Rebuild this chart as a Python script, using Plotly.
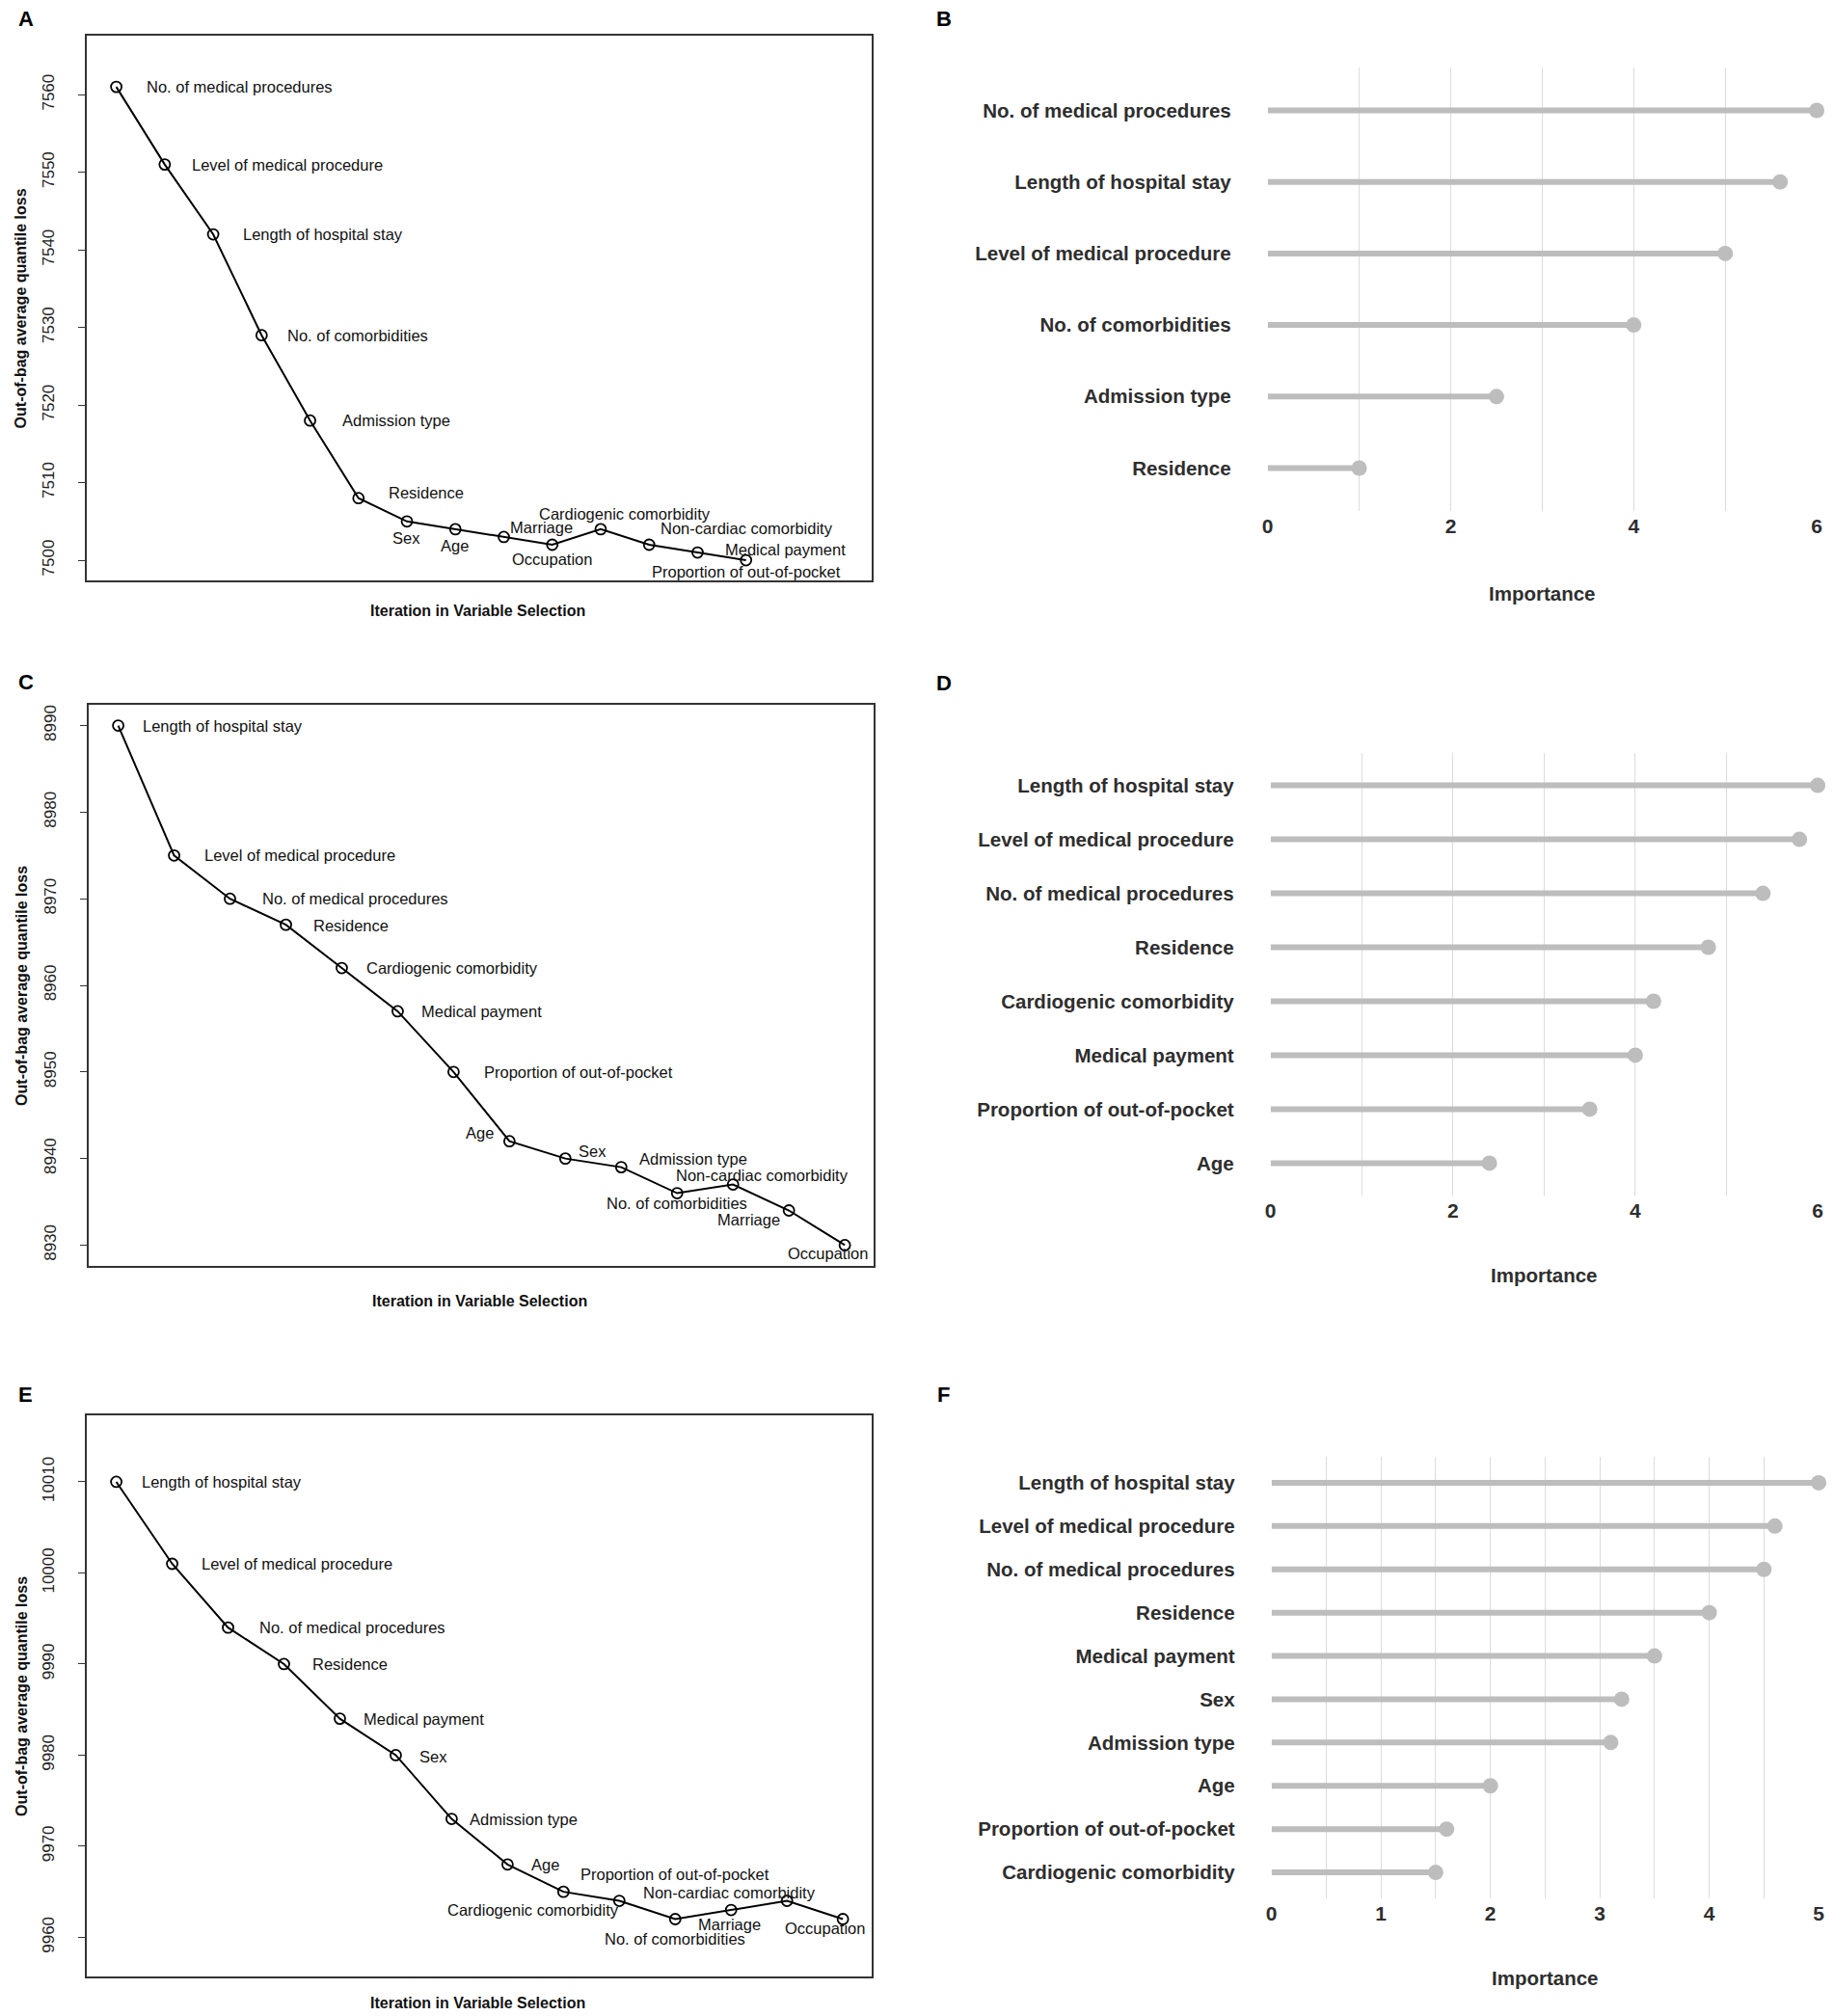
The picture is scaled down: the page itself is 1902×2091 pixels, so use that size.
import plotly.graph_objects as go

W, H = 1902, 2091

# ---------------- DATA ----------------
# Panel A: iteration path
a_labels = ["No. of medical procedures", "Level of medical procedure", "Length of hospital stay",
            "No. of comorbidities", "Admission type", "Residence", "Sex", "Age", "Marriage",
            "Occupation", "Cardiogenic comorbidity", "Non-cardiac comorbidity", "Medical payment",
            "Proportion of out-of-pocket"]
a_loss = [7561, 7551, 7542, 7529, 7518, 7508, 7505, 7504, 7503, 7502, 7504, 7502, 7501, 7500]
a_yticks = [7500, 7510, 7520, 7530, 7540, 7550, 7560]

# Panel B: importance
b_vars = ["No. of medical procedures", "Length of hospital stay", "Level of medical procedure",
          "No. of comorbidities", "Admission type", "Residence"]
b_imp = [6.0, 5.6, 5.0, 4.0, 2.5, 1.0]
b_xticks = [0, 2, 4, 6]

# Panel C
c_labels = ["Length of hospital stay", "Level of medical procedure", "No. of medical procedures",
            "Residence", "Cardiogenic comorbidity", "Medical payment", "Proportion of out-of-pocket",
            "Age", "Sex", "Admission type", "No. of comorbidities", "Non-cardiac comorbidity",
            "Marriage", "Occupation"]
c_loss = [8990, 8975, 8970, 8967, 8962, 8957, 8950, 8942, 8940, 8939, 8936, 8937, 8934, 8930]
c_yticks = [8930, 8940, 8950, 8960, 8970, 8980, 8990]

# Panel D
d_vars = ["Length of hospital stay", "Level of medical procedure", "No. of medical procedures",
          "Residence", "Cardiogenic comorbidity", "Medical payment", "Proportion of out-of-pocket", "Age"]
d_imp = [6.0, 5.8, 5.4, 4.8, 4.2, 4.0, 3.5, 2.4]
d_xticks = [0, 2, 4, 6]

# Panel E
e_labels = ["Length of hospital stay", "Level of medical procedure", "No. of medical procedures",
            "Residence", "Medical payment", "Sex", "Admission type", "Age", "Cardiogenic comorbidity",
            "Proportion of out-of-pocket", "No. of comorbidities", "Marriage", "Non-cardiac comorbidity",
            "Occupation"]
e_loss = [10010, 10001, 9994, 9990, 9984, 9980, 9973, 9968, 9965, 9964, 9962, 9963, 9964, 9962]
e_yticks = [9960, 9970, 9980, 9990, 10000, 10010]

# Panel F
f_vars = ["Length of hospital stay", "Level of medical procedure", "No. of medical procedures",
          "Residence", "Medical payment", "Sex", "Admission type", "Age",
          "Proportion of out-of-pocket", "Cardiogenic comorbidity"]
f_imp = [5.0, 4.6, 4.5, 4.0, 3.5, 3.2, 3.1, 2.0, 1.6, 1.5]
f_xticks = [0, 1, 2, 3, 4, 5]

# ---------------- STYLE: label placement (anchor, xshift px, yshift px) ----------------
a_pos = [("left", 29, 0), ("left", 26, 0), ("left", 29, 0), ("left", 25, 0), ("left", 31, 0),
         ("left", 29, 6), ("center", -1, -17), ("center", -1, -17), ("left", 5, 10),
         ("center", 0, -15), ("center", 25, 16), ("left", 10, 17), ("left", 27, 3),
         ("center", 0, -12)]
c_pos = [("left", 23, 0), ("left", 29, 0), ("left", 31, 0), ("left", 27, -1), ("left", 24, 0),
         ("left", 23, 0), ("left", 30, 0), ("center", -31, 9), ("left", 12, 8), ("left", 17, 9),
         ("center", 0, -10), ("center", 30, 10), ("center", -42, -9), ("center", -18, -9)]
e_pos = [("left", 24, 0), ("left", 28, 0), ("left", 30, 0), ("left", 27, 0), ("left", 23, 0),
         ("left", 23, -2), ("left", 17, 0), ("left", 23, 0), ("center", -31, -19),
         ("center", 58, 28), ("center", 0, -21), ("center", -2, -15), ("center", -60, 9),
         ("center", -19, -10)]

FONT = "Liberation Sans, Arial, Helvetica, sans-serif"
GREY = "#bdbdbd"
GRID = "#dcdcdc"
TXT = "#2e2e2e"


def px_x(p):
    return p / W


def px_y(p):
    return 1 - p / H


fig = go.Figure()
layout = dict(
    width=W, height=H, margin=dict(l=0, r=0, t=0, b=0),
    paper_bgcolor="white", plot_bgcolor="white", showlegend=False,
    font=dict(family=FONT, color="black"),
)
annotations = []

line_panels = [
    # name, labels, loss, yticks, pos, box(x0,x1,y0,y1), xrange, yrange, letter_y, xtitle_y
    ("A", a_labels, a_loss, a_yticks, a_pos, (85, 904, 37, 602), [0.4, 16.6], [7497.4, 7567.6], 20, 633),
    ("C", c_labels, c_loss, c_yticks, c_pos, (87, 906, 731, 1313), [0.48, 14.52], [8927.6, 8992.4], 707, 1349),
    ("E", e_labels, e_loss, e_yticks, e_pos, (85, 904, 1468, 2050), [0.48, 14.52], [9955.7, 10017.3], 1446, 2077),
]
bar_panels = [
    ("B", b_vars, b_imp, b_xticks, 1, (1317, 1890, 70, 530), 615, 20),
    ("D", d_vars, d_imp, d_xticks, 1, (1320, 1891, 781, 1240), 1322, 708),
    ("F", f_vars, f_imp, f_xticks, 0.5, (1321, 1892, 1511, 1969), 2051, 1446),
]

axis_i = 0
for name, labels, loss, yticks, pos, box, xr, yr, let_y, xt_y in line_panels:
    axis_i += 1
    xa = "x" if axis_i == 1 else f"x{axis_i}"
    ya = "y" if axis_i == 1 else f"y{axis_i}"
    xkey = "xaxis" if axis_i == 1 else f"xaxis{axis_i}"
    ykey = "yaxis" if axis_i == 1 else f"yaxis{axis_i}"
    x0, x1, y0, y1 = box
    iters = list(range(1, len(loss) + 1))
    fig.add_trace(go.Scatter(
        x=iters, y=loss, mode="lines+markers", xaxis=xa, yaxis=ya,
        line=dict(color="black", width=2),
        marker=dict(symbol="circle-open", size=11, color="black", line=dict(width=1.8)),
        cliponaxis=False, hoverinfo="skip"))
    layout[xkey] = dict(domain=[px_x(x0), px_x(x1)], range=xr, anchor=ya,
                        showline=True, mirror=True, linecolor="#333333", linewidth=1.5,
                        showgrid=False, zeroline=False, showticklabels=False, ticks="")
    layout[ykey] = dict(domain=[px_y(y1), px_y(y0)], range=yr, anchor=xa,
                        showline=True, mirror=True, linecolor="#333333", linewidth=1.5,
                        showgrid=False, zeroline=False, tickvals=yticks,
                        ticktext=[str(t) for t in yticks],
                        ticks="outside", ticklen=8, tickwidth=1.2, tickcolor="#333333",
                        ticklabelstandoff=18,
                        tickangle=-90, tickfont=dict(size=17, family=FONT, color="#222222"))
    for lab, xv, yv, (anc, xs, ys) in zip(labels, iters, loss, pos):
        annotations.append(dict(x=xv, y=yv, xref=xa, yref=ya, text=lab, showarrow=False,
                                xanchor=anc, yanchor="middle", xshift=xs, yshift=ys,
                                font=dict(size=16.5, family=FONT, color="#111111")))
    annotations.append(dict(x=px_x(21), y=px_y(let_y), xref="paper", yref="paper",
                            text=f"<b>{name}</b>", showarrow=False, xanchor="center",
                            yanchor="middle", font=dict(size=22, family=FONT, color="black")))
    annotations.append(dict(x=px_x((x0 + x1) / 2 - 2), y=px_y(xt_y), xref="paper", yref="paper",
                            text="<b>Iteration in Variable Selection</b>", showarrow=False,
                            xanchor="center", yanchor="middle",
                            font=dict(size=16, family=FONT, color="#111111")))
    annotations.append(dict(x=px_x(16), y=px_y((y0 + y1) / 2), xref="paper", yref="paper",
                            text="<b>Out-of-bag average quantile loss</b>", showarrow=False,
                            textangle=-90, xanchor="center", yanchor="middle",
                            font=dict(size=16, family=FONT, color="#111111")))

for name, vars_, imp, xticks, minor_dt, box, title_y, let_y in bar_panels:
    axis_i += 1
    xa = f"x{axis_i}"
    ya = f"y{axis_i}"
    xkey = f"xaxis{axis_i}"
    ykey = f"yaxis{axis_i}"
    x0, x1, y0, y1 = box
    seg_x, seg_y = [], []
    for v, c in zip(imp, vars_):
        seg_x += [0, v, None]
        seg_y += [c, c, None]
    fig.add_trace(go.Scatter(x=seg_x, y=seg_y, mode="lines", xaxis=xa, yaxis=ya,
                             line=dict(color=GREY, width=6), cliponaxis=False,
                             hoverinfo="skip", connectgaps=False))
    fig.add_trace(go.Scatter(x=imp, y=vars_, mode="markers", xaxis=xa, yaxis=ya,
                             marker=dict(size=16, color=GREY), cliponaxis=False,
                             hoverinfo="skip"))
    n = len(vars_)
    layout[xkey] = dict(domain=[px_x(x0), px_x(x1)], range=[0, max(xticks)], anchor=ya,
                        showline=False, zeroline=False, showgrid=True, gridcolor=GRID, gridwidth=1,
                        tickvals=xticks, ticktext=[str(t) for t in xticks], ticks="",
                        ticklabelstandoff=1,
                        minor=dict(dtick=minor_dt, tick0=0, showgrid=True, gridcolor=GRID, gridwidth=1),
                        tickfont=dict(size=21, family=FONT, color=TXT, weight="bold"))
    layout[ykey] = dict(domain=[px_y(y1), px_y(y0)], type="category", categoryorder="array",
                        categoryarray=vars_, range=[n - 0.4, -0.6], anchor=xa,
                        showline=False, zeroline=False, showgrid=False, ticks="",
                        ticklabelstandoff=37,
                        tickfont=dict(size=20.5, family=FONT, color=TXT, weight="bold"))
    annotations.append(dict(x=px_x(979), y=px_y(let_y), xref="paper", yref="paper",
                            text=f"<b>{name}</b>", showarrow=False, xanchor="center",
                            yanchor="middle", font=dict(size=22, family=FONT, color="black")))
    annotations.append(dict(x=px_x((x0 + x1) / 2), y=px_y(title_y), xref="paper", yref="paper",
                            text="<b>Importance</b>", showarrow=False, xanchor="center",
                            yanchor="middle", font=dict(size=20.5, family=FONT, color=TXT)))

layout["annotations"] = annotations
fig.update_layout(**layout)
fig.write_html(
    "out.html",
    config={"displayModeBar": False},
    post_script="document.documentElement.style.margin='0';document.body.style.margin='0';"
                "document.documentElement.style.overflow='hidden';document.body.style.overflow='hidden';",
)
